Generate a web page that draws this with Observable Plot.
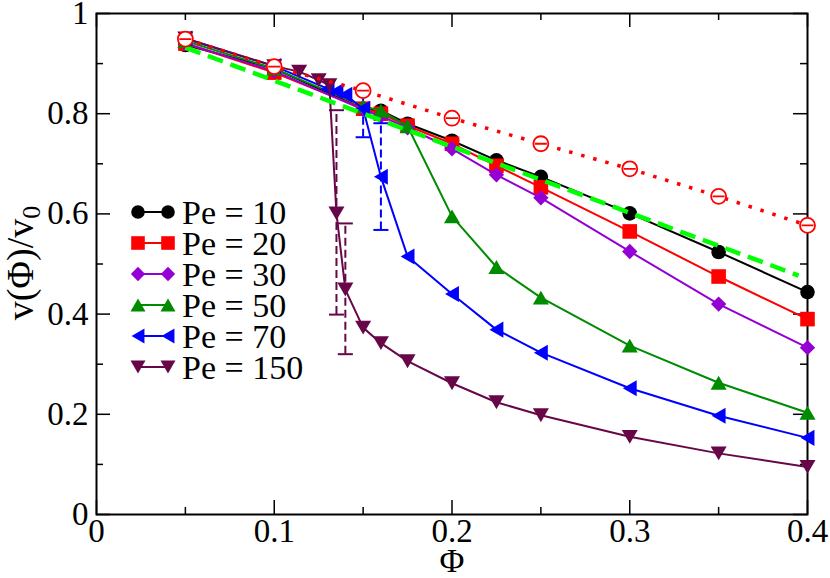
<!DOCTYPE html>
<html><head><meta charset="utf-8">
<script src="https://cdn.jsdelivr.net/npm/d3@7"></script>
<script src="https://cdn.jsdelivr.net/npm/@observablehq/plot@0.6"></script>
<style>
html,body{margin:0;padding:0;background:#fff;font-family:'Liberation Serif';}
</style>
</head><body><div id="chart"></div>
<script>
// ---- data ----
const phi10 = [0.05,0.1,0.15,0.16,0.175,0.2,0.225,0.25,0.3,0.35,0.4];
const v10   = [0.937,0.89,0.81,0.806,0.78,0.746,0.707,0.674,0.601,0.524,0.444];
const phi20 = [0.05,0.1,0.15,0.16,0.175,0.2,0.225,0.25,0.3,0.35,0.4];
const v20   = [0.94,0.882,0.81,0.80,0.776,0.74,0.696,0.653,0.565,0.475,0.39];
const phi30 = [0.05,0.1,0.15,0.16,0.175,0.2,0.225,0.25,0.3,0.35,0.4];
const v30   = [0.94,0.885,0.808,0.795,0.772,0.73,0.678,0.632,0.525,0.42,0.333];
const phi50 = [0.05,0.1,0.15,0.16,0.175,0.2,0.225,0.25,0.3,0.35,0.4];
const v50   = [0.945,0.89,0.815,0.806,0.775,0.595,0.494,0.433,0.337,0.263,0.203];
const phi70 = [0.05,0.1,0.13,0.135,0.14,0.15,0.16,0.175,0.2,0.225,0.25,0.3,0.35,0.4];
const v70   = [0.95,0.895,0.85,0.845,0.838,0.81,0.674,0.515,0.44,0.369,0.323,0.252,0.197,0.153];
const phi150 = [0.05,0.1,0.114,0.125,0.131,0.135,0.14,0.15,0.16,0.175,0.2,0.225,0.25,0.3,0.35,0.4];
const v150   = [0.95,0.895,0.884,0.867,0.857,0.601,0.449,0.373,0.342,0.306,0.262,0.224,0.198,0.155,0.122,0.095];

const phiOpen = [0.05,0.1,0.15,0.2,0.25,0.3,0.35,0.4];
const vOpen   = [0.949,0.894,0.846,0.791,0.74,0.69,0.635,0.577];

const phiDash = [0.05,0.395];
const vDash   = [0.932,0.477];

// error bars
const ebPhi   = [0.135,0.14,0.15,0.16];
const ebLow   = [0.399,0.320,0.753,0.568];
const ebHigh  = [0.807,0.581,0.85,0.781];
const ebSeries = ["150","150","70","70"];

const seriesLabels = ["Pe = 10","Pe = 20","Pe = 30","Pe = 50","Pe = 70","Pe = 150"];
const seriesKeys   = ["10","20","30","50","70","150"];
const seriesColors = ["#000000","#ff0000","#9400d3","#008b00","#0000ff","#670748"];
const seriesShapes = ["circle","square","diamond","up","left","down"];

const xMajor = [0,0.1,0.2,0.3,0.4];
const xMinor = [0.05,0.15,0.25,0.35];
const yMajor = [0,0.2,0.4,0.6,0.8,1];
const yMinor = [0.1,0.3,0.5,0.7,0.9];

// ---- symbols ----
const poly = pts => ({draw(ctx, size){
  const r = Math.sqrt(size/Math.PI);
  ctx.moveTo(pts[0][0]*r, pts[0][1]*r);
  for (let i=1;i<pts.length;i++) ctx.lineTo(pts[i][0]*r, pts[i][1]*r);
  ctx.closePath();
}});
const symbols = {
  circle: {draw(ctx,size){const r=Math.sqrt(size/Math.PI); ctx.moveTo(r,0); ctx.arc(0,0,r,0,2*Math.PI);}},
  square: poly([[-1,-1],[1,-1],[1,1],[-1,1]]),
  diamond: poly([[0,-1.05],[1.05,0],[0,1.05],[-1.05,0]]),
  up: poly([[0,-0.95],[1.1,0.95],[-1.1,0.95]]),
  down: poly([[0,0.95],[1.1,-0.95],[-1.1,-0.95]]),
  left: poly([[-0.95,0],[0.95,-1.1],[0.95,1.1]])
};
const capSym = {draw(ctx,size){const r=Math.sqrt(size/Math.PI); ctx.moveTo(-r,0); ctx.lineTo(r,0);}};
const openSym = {draw(ctx,size){const r=Math.sqrt(size/Math.PI); ctx.moveTo(r,0); ctx.arc(0,0,r,0,2*Math.PI); ctx.moveTo(-r*0.8,0); ctx.lineTo(r*0.8,0);}};

// ---- tables ----
const seriesPhi = [phi10,phi20,phi30,phi50,phi70,phi150];
const seriesV   = [v10,v20,v30,v50,v70,v150];
const series = seriesKeys.map((k,i)=>seriesPhi[i].map((p,j)=>({phi:p, v:seriesV[i][j], key:k})));
const openPts = phiOpen.map((p,i)=>({phi:p, v:vOpen[i]}));
const dashPts = phiDash.map((p,i)=>({phi:p, v:vDash[i]}));
const ebs = ebPhi.map((p,i)=>({phi:p, lo:ebLow[i], hi:ebHigh[i], color: seriesColors[seriesKeys.indexOf(ebSeries[i])]}));

const W = 830, H = 578, mL = 96, mR = 23, mT = 13, mB = 64;
const FH = H - mT - mB;
const FW = W - mL - mR;
const FONT = "Liberation Serif";
const fmtX = d => d === 0 ? "0" : d.toFixed(1);
const fmtY = d => (d === 0 || d === 1) ? String(d) : d.toFixed(1);

const marks = [
  Plot.frame({stroke:"black", strokeWidth:2}),
  // ticks, inward on all sides
  Plot.tickX(xMajor, {x:d=>d, insetTop:FH-14, stroke:"black", strokeWidth:1.5}),
  Plot.tickX(xMinor, {x:d=>d, insetTop:FH-7, stroke:"black", strokeWidth:1.5}),
  Plot.tickX(xMajor, {x:d=>d, insetBottom:FH-14, stroke:"black", strokeWidth:1.5}),
  Plot.tickX(xMinor, {x:d=>d, insetBottom:FH-7, stroke:"black", strokeWidth:1.5}),
  Plot.tickY(yMajor, {y:d=>d, insetRight:FW-14, stroke:"black", strokeWidth:1.5}),
  Plot.tickY(yMinor, {y:d=>d, insetRight:FW-7, stroke:"black", strokeWidth:1.5}),
  Plot.tickY(yMajor, {y:d=>d, insetLeft:FW-14, stroke:"black", strokeWidth:1.5}),
  Plot.tickY(yMinor, {y:d=>d, insetLeft:FW-7, stroke:"black", strokeWidth:1.5}),
  Plot.axisX(xMajor, {anchor:"bottom", tickSize:0, tickPadding:4, tickFormat:fmtX, fontSize:33, label:null}),
  Plot.axisY(yMajor, {anchor:"left", tickSize:0, tickPadding:8, tickFormat:fmtY, fontSize:33, label:null}),
  Plot.text(["Φ"], {frameAnchor:"bottom", dy:47, text:d=>d, fontSize:34, lineAnchor:"middle"})
];
series.forEach((data,i)=>{
  marks.push(Plot.line(data, {x:"phi", y:"v", stroke:seriesColors[i], strokeWidth:2}));
  marks.push(Plot.dot(data, {x:"phi", y:"v", symbol:symbols[seriesShapes[i]], r:7.3, fill:seriesColors[i], stroke:"none"}));
});
marks.push(
  Plot.ruleX(ebs, {x:"phi", y1:"lo", y2:"hi", stroke:"color", strokeWidth:2, strokeDasharray:"8,4", strokeLinecap:"butt"}),
  Plot.dot(ebs, {x:"phi", y:"lo", symbol:capSym, r:7.5, stroke:"color", strokeWidth:2, fill:"none"}),
  Plot.dot(ebs, {x:"phi", y:"hi", symbol:capSym, r:7.5, stroke:"color", strokeWidth:2, fill:"none"}),
  Plot.line(dashPts, {x:"phi", y:"v", stroke:"#00ff00", strokeWidth:4.5, strokeDasharray:"16,8", strokeLinecap:"butt"}),
  Plot.line(openPts, {x:"phi", y:"v", stroke:"#ff0000", strokeWidth:3.5, strokeDasharray:"3.5,9", strokeLinecap:"butt"}),
  Plot.dot(openPts, {x:"phi", y:"v", symbol:openSym, r:7.5, stroke:"#ff0000", strokeWidth:1.8, fill:"white"})
);

const svgEl = Plot.plot({
  width:W, height:H, marginLeft:mL, marginRight:mR, marginTop:mT, marginBottom:mB,
  x:{domain:[0,0.4], label:null},
  y:{domain:[0,1], label:null},
  style:"font-family: 'Liberation Serif'; font-size: 33px; background: white; color: black;",
  marks
});
document.getElementById("chart").appendChild(svgEl);
svgEl.setAttribute("font-family", FONT);

// y-axis title with subscript
const svg = d3.select(svgEl);
const yt = svg.append("text")
  .attr("transform","translate(32.5,263) rotate(-90)")
  .attr("text-anchor","middle")
  .attr("font-size",38).attr("fill","black");
yt.append("tspan").text("v(Φ)/v");
yt.append("tspan").attr("dy","0.3em").attr("font-size",26).text("0");

// legend
const lg = svg.append("g").attr("font-size",34).attr("text-anchor","start");
seriesLabels.forEach((lab,i)=>{
  const y = 212 + i*31;
  const g = lg.append("g").attr("transform",`translate(0,${y})`);
  g.append("line").attr("x1",138).attr("x2",168).attr("y1",0).attr("y2",0)
    .attr("stroke",seriesColors[i]).attr("stroke-width",2);
  const p = d3.symbol().type(symbols[seriesShapes[i]]).size(Math.PI*6.8*6.8)();
  [138,168].forEach(x=>g.append("path").attr("d",p).attr("transform",`translate(${x},0)`).attr("fill",seriesColors[i]));
  g.append("text").attr("x",182).attr("y",0).attr("dy","0.35em").attr("text-anchor","start").attr("fill","black").text(lab);
});
svg.selectAll("text, tspan").each(function(){ this.setAttribute("font-family", FONT); this.style.setProperty("font-family", FONT, "important"); });
</script>
</body></html>
